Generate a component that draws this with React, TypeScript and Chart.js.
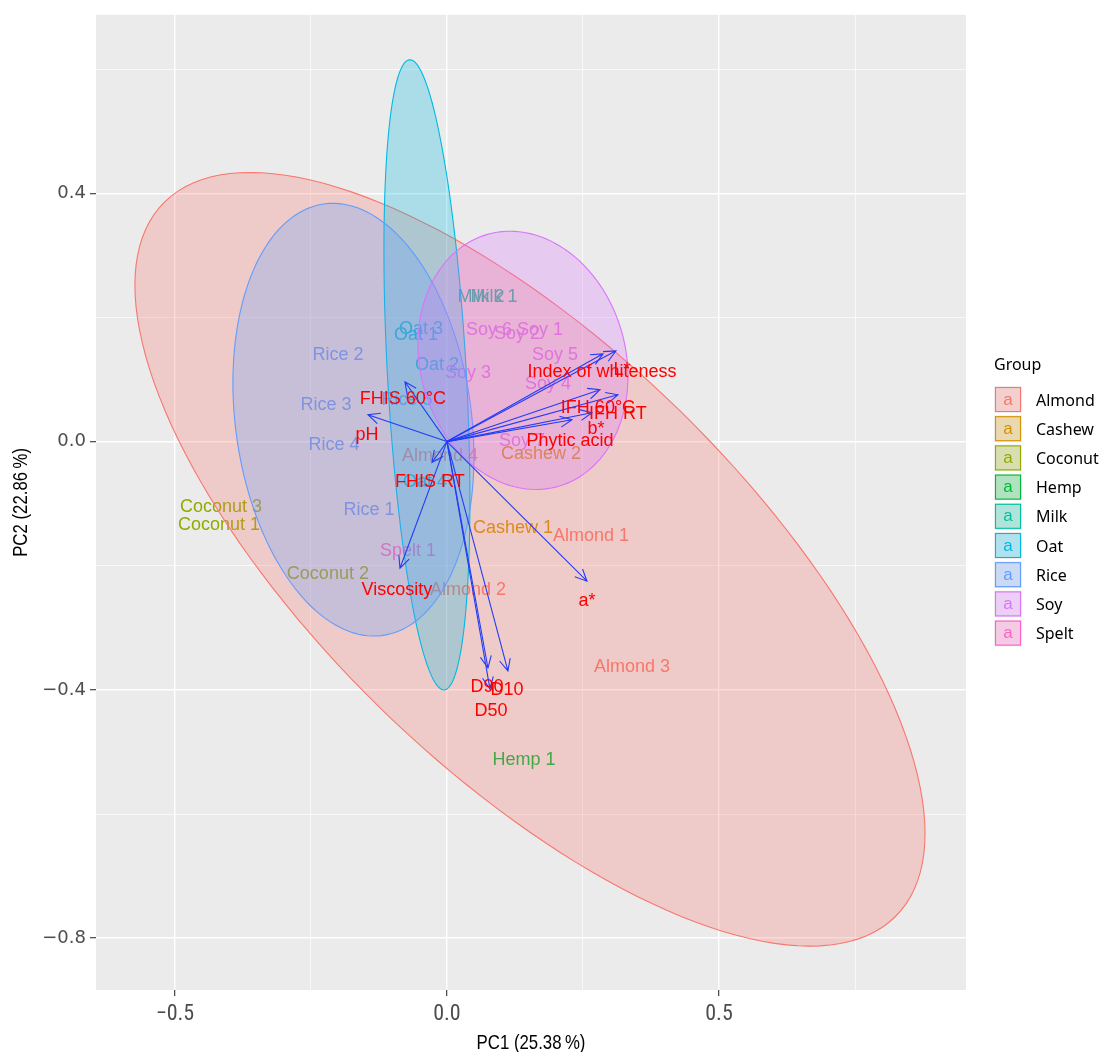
import React, { useEffect, useRef } from "react";
import { Chart, registerables } from "chart.js";
Chart.register(...registerables);

// ---------------- data ----------------
const groups = ["Almond", "Cashew", "Coconut", "Hemp", "Milk", "Oat", "Rice", "Soy", "Spelt"];
const groupColors = ["#F8766D", "#D39200", "#93AA00", "#00BA38", "#00C19F", "#00B9E3", "#619CFF", "#DB72FB", "#FF61C3"];

const sampleNames = [
  "Almond 1", "Almond 2", "Almond 3", "Almond 4", "Cashew 1", "Cashew 2",
  "Coconut 1", "Coconut 2", "Coconut 3", "Hemp 1", "Milk 1", "Milk 2",
  "Oat 1", "Oat 2", "Oat 3", "Oat 4", "Rice 1", "Rice 2", "Rice 3", "Rice 4", "Rice 5",
  "Soy 1", "Soy 2", "Soy 3", "Soy 4", "Soy 5", "Soy 6", "Soy 7", "Spelt 1",
];
const sampleGroups = [
  "Almond", "Almond", "Almond", "Almond", "Cashew", "Cashew",
  "Coconut", "Coconut", "Coconut", "Hemp", "Milk", "Milk",
  "Oat", "Oat", "Oat", "Oat", "Rice", "Rice", "Rice", "Rice", "Rice",
  "Soy", "Soy", "Soy", "Soy", "Soy", "Soy", "Soy", "Spelt",
];
const samplePC1 = [
  0.2647, 0.0386, 0.3401, -0.0129, 0.1213, 0.1728,
  -0.4191, -0.2188, -0.4154, 0.1415, 0.0864, 0.0625,
  -0.057, -0.0184, -0.0478, -0.0404, -0.1434, -0.2004, -0.2224, -0.2077, -0.0735,
  0.171, 0.1287, 0.0386, 0.1857, 0.1985, 0.0772, 0.1379, -0.0717,
];
const samplePC2 = [
  -0.1494, -0.2361, -0.3614, -0.0209, -0.1365, -0.0177,
  -0.1317, -0.2104, -0.1028, -0.5108, 0.2361, 0.2361,
  0.1735, 0.1253, 0.1831, -0.0627, -0.1076, 0.1414, 0.061, -0.0032, 0.0691,
  0.1815, 0.1751, 0.1124, 0.0948, 0.1414, 0.1815, 0.0032, -0.1735,
];

const varNames = ["L*", "Index of whiteness", "IFH 60°C", "IFH RT", "b*", "Phytic acid", "a*", "pH", "FHIS 60°C", "FHIS RT", "Viscosity", "D90", "D10", "D50"];
const varPC1 = [0.3107, 0.2868, 0.2813, 0.3143, 0.2665, 0.2298, 0.2574, -0.1452, -0.0772, -0.0276, -0.0864, 0.0754, 0.1121, 0.079];
const varPC2 = [0.1462, 0.1414, 0.0835, 0.0755, 0.0466, 0.0353, -0.2249, 0.0434, 0.0964, -0.0337, -0.204, -0.3647, -0.3695, -0.3984];
const varLabelPC1 = [0.3217, 0.2849, 0.2776, 0.3143, 0.2739, 0.2261, 0.2574, -0.1471, -0.0809, -0.0313, -0.0919, 0.0735, 0.1103, 0.0809];
const varLabelPC2 = [0.1173, 0.1141, 0.0562, 0.0466, 0.0225, 0.0032, -0.2538, 0.0129, 0.0707, -0.0627, -0.2361, -0.3936, -0.3984, -0.4321];

const ellipseGroups = ["Almond", "Oat", "Rice", "Soy"];
const ellipseCenterPC1 = [0.1526, -0.0368, -0.1719, 0.1397];
const ellipseCenterPC2 = [-0.1896, 0.1076, 0.0353, 0.1309];
const ellipseAxis1PC1 = [0.7261, 0.079, 0.2215, 0.193];
const ellipseAxis1PC2 = [-0.4416, -0.2006, -0.0593, -0.0257];
const ellipseAxis2PC1 = [0, 0, 0, 0];
const ellipseAxis2PC2 = [-0.4398, -0.4663, -0.3435, -0.2064];

const xTickValues = [-0.5, 0, 0.5];
const xTickLabels = ["\u22120.5", "0.0", "0.5"];
const xMinorValues = [-0.25, 0.25, 0.75];
const yTickValues = [-0.8, -0.4, 0, 0.4];
const yTickLabels = ["\u22120.8", "\u22120.4", "0.0", "0.4"];
const yMinorValues = [-0.6, -0.2, 0.2, 0.6];
const xLimits = [-0.645, 0.954];
const yLimits = [-0.8835, 0.6876];

const xTitle = "PC1 (25.38\u2009%)";
const yTitle = "PC2 (22.86\u2009%)";
const legendTitle = "Group";

// ---------------- styles ----------------
const FILL_ALPHA = 0.27;
const LABEL_FONT = "18px 'Liberation Sans', Arial, sans-serif";
const TITLE_FONT = "21px 'Liberation Sans', Arial, sans-serif";
const ARROW_COLOR = "rgb(35,60,245)";
const VAR_COLOR = "#FF0000";

function hexToRgba(hex: string, a: number) {
  const n = parseInt(hex.slice(1), 16);
  return `rgba(${(n >> 16) & 255},${(n >> 8) & 255},${n & 255},${a})`;
}
const colorOf = (g: string) => groupColors[groups.indexOf(g)];
const near = (a: number, b: number) => Math.abs(a - b) < 1e-9;
function labelFor(v: number, vals: number[], labels: string[]) {
  const i = vals.findIndex((t) => near(t, v));
  return i >= 0 ? labels[i] : "";
}
const isMajor = (v: number, vals: number[]) => vals.some((t) => near(t, v));

const biplotPlugin = {
  id: "biplot",
  beforeDraw(chart: any) {
    const { ctx, chartArea: a } = chart;
    ctx.save();
    ctx.fillStyle = "#FFFFFF";
    ctx.fillRect(0, 0, chart.width, chart.height);
    ctx.fillStyle = "#EBEBEB";
    ctx.fillRect(a.left, a.top, a.right - a.left, a.bottom - a.top);
    ctx.restore();
  },
  afterDatasetsDraw(chart: any) {
    const { ctx, chartArea: a, scales } = chart;
    const xs = scales.x, ys = scales.y;
    const X = (v: number) => xs.getPixelForValue(v);
    const Y = (v: number) => ys.getPixelForValue(v);
    ctx.save();
    ctx.beginPath();
    ctx.rect(a.left, a.top, a.right - a.left, a.bottom - a.top);
    ctx.clip();

    // sample labels
    ctx.font = LABEL_FONT;
    ctx.textAlign = "center";
    ctx.textBaseline = "alphabetic";
    sampleNames.forEach((name, i) => {
      ctx.fillStyle = colorOf(sampleGroups[i]);
      ctx.fillText(name, X(samplePC1[i]), Y(samplePC2[i]) + 6.5);
    });

    // ellipses
    ellipseGroups.forEach((g, k) => {
      const col = colorOf(g);
      ctx.beginPath();
      const N = 160;
      for (let j = 0; j <= N; j++) {
        const t = (j / N) * Math.PI * 2;
        const dx = ellipseCenterPC1[k] + ellipseAxis1PC1[k] * Math.cos(t) + ellipseAxis2PC1[k] * Math.sin(t);
        const dy = ellipseCenterPC2[k] + ellipseAxis1PC2[k] * Math.cos(t) + ellipseAxis2PC2[k] * Math.sin(t);
        if (j === 0) ctx.moveTo(X(dx), Y(dy));
        else ctx.lineTo(X(dx), Y(dy));
      }
      ctx.closePath();
      ctx.fillStyle = hexToRgba(col, FILL_ALPHA);
      ctx.fill();
      ctx.strokeStyle = col;
      ctx.lineWidth = 1.1;
      ctx.stroke();
    });

    // arrows
    const ox = X(0), oy = Y(0);
    ctx.strokeStyle = ARROW_COLOR;
    ctx.lineWidth = 1.1;
    varNames.forEach((_, i) => {
      const tx = X(varPC1[i]), ty = Y(varPC2[i]);
      ctx.beginPath();
      ctx.moveTo(ox, oy);
      ctx.lineTo(tx, ty);
      const ang = Math.atan2(ty - oy, tx - ox);
      const L = 13, h = (25 * Math.PI) / 180;
      ctx.moveTo(tx - L * Math.cos(ang - h), ty - L * Math.sin(ang - h));
      ctx.lineTo(tx, ty);
      ctx.lineTo(tx - L * Math.cos(ang + h), ty - L * Math.sin(ang + h));
      ctx.stroke();
    });

    // variable labels
    ctx.font = LABEL_FONT;
    ctx.fillStyle = VAR_COLOR;
    varNames.forEach((name, i) => {
      ctx.fillText(name, X(varLabelPC1[i]), Y(varLabelPC2[i]) + 6.5);
    });
    ctx.restore();
  },
  afterDraw(chart: any) {
    const { ctx, chartArea: a } = chart;
    // axis titles (narrow type, as in the reference)
    ctx.save();
    ctx.fillStyle = "#000000";
    ctx.font = TITLE_FONT;
    ctx.textAlign = "center";
    ctx.textBaseline = "middle";
    ctx.translate((a.left + a.right) / 2, 1043);
    ctx.scale(0.8, 1);
    ctx.fillText(xTitle, 0, 0);
    ctx.restore();
    ctx.save();
    ctx.fillStyle = "#000000";
    ctx.font = TITLE_FONT;
    ctx.textAlign = "center";
    ctx.textBaseline = "middle";
    ctx.translate(21, (a.top + a.bottom) / 2);
    ctx.rotate(-Math.PI / 2);
    ctx.scale(0.8, 1);
    ctx.fillText(yTitle, 0, 0);
    ctx.restore();

    // legend
    ctx.save();
    ctx.fillStyle = "#000000";
    ctx.font = "16px 'Noto Sans', 'Open Sans', sans-serif";
    ctx.textAlign = "left";
    ctx.textBaseline = "alphabetic";
    ctx.fillText(legendTitle, 994, 370);
    const top0 = 386, step = 29.2, bw = 28, bh = 27;
    groups.forEach((g, i) => {
      const y = top0 + i * step;
      const col = groupColors[i];
      ctx.fillStyle = "#F2F2F2";
      ctx.fillRect(994, y, bw, bh);
      ctx.fillStyle = hexToRgba(col, FILL_ALPHA);
      ctx.fillRect(995, y + 1, bw - 2, bh - 2);
      ctx.strokeStyle = col;
      ctx.lineWidth = 1.1;
      ctx.strokeRect(995.5, y + 1.5, bw - 3, bh - 3);
      ctx.fillStyle = col;
      ctx.font = "17px 'Liberation Sans', Arial, sans-serif";
      ctx.textAlign = "center";
      ctx.fillText("a", 994 + bw / 2, y + bh / 2 + 5);
      ctx.fillStyle = "#000000";
      ctx.font = "16px 'Noto Sans', 'Open Sans', sans-serif";
      ctx.textAlign = "left";
      ctx.fillText(g, 1036, y + bh / 2 + 6);
    });
    ctx.restore();
  },
};

export default function App() {
  const ref = useRef<HTMLCanvasElement>(null);
  useEffect(() => {
    document.body.style.margin = "0";
    const canvas = ref.current!;
    const xGrid = [...xTickValues, ...xMinorValues].sort((p, q) => p - q);
    const yGrid = [...yTickValues, ...yMinorValues].sort((p, q) => p - q);
    const chart = new Chart(canvas, {
      type: "scatter",
      data: {
        datasets: [
          {
            label: "samples",
            data: samplePC1.map((x, i) => ({ x, y: samplePC2[i] })),
            pointRadius: 0,
            pointHoverRadius: 0,
          },
        ],
      },
      options: {
        animation: false,
        responsive: false,
        devicePixelRatio: 1,
        events: [],
        layout: { padding: { top: 12, right: 137, left: 0, bottom: 0 } },
        plugins: { legend: { display: false }, tooltip: { enabled: false }, title: { display: false } },
        scales: {
          x: {
            type: "linear",
            min: xLimits[0],
            max: xLimits[1],
            afterBuildTicks: (s: any) => {
              s.ticks = xGrid.map((v) => ({ value: v }));
            },
            afterFit: (s: any) => {
              s.height = 62;
            },
            border: { display: false },
            grid: {
              color: "#FFFFFF",
              lineWidth: (c: any) => (isMajor(c.tick?.value, xTickValues) ? 1.4 : 0.7),
              tickColor: (c: any) => (isMajor(c.tick?.value, xTickValues) ? "#333333" : "rgba(0,0,0,0)"),
              tickWidth: 1.1,
              tickLength: 6,
              drawTicks: true,
            },
            ticks: {
              autoSkip: false,
              maxRotation: 0,
              minRotation: 0,
              padding: 5,
              color: "#4D4D4D",
              font: { family: "'Roboto Condensed', 'Liberation Sans Narrow', 'Liberation Sans', sans-serif", size: 22 },
              callback: (v: any) => labelFor(Number(v), xTickValues, xTickLabels),
            },
          },
          y: {
            type: "linear",
            min: yLimits[0],
            max: yLimits[1],
            afterBuildTicks: (s: any) => {
              s.ticks = yGrid.map((v) => ({ value: v }));
            },
            afterFit: (s: any) => {
              s.width = 96;
            },
            border: { display: false },
            grid: {
              color: "#FFFFFF",
              lineWidth: (c: any) => (isMajor(c.tick?.value, yTickValues) ? 1.4 : 0.7),
              tickColor: (c: any) => (isMajor(c.tick?.value, yTickValues) ? "#333333" : "rgba(0,0,0,0)"),
              tickWidth: 1.1,
              tickLength: 6,
              drawTicks: true,
            },
            ticks: {
              autoSkip: false,
              padding: 4,
              color: "#4D4D4D",
              font: { family: "'DejaVu Sans', sans-serif", size: 18 },
              callback: (v: any) => labelFor(Number(v), yTickValues, yTickLabels),
            },
          },
        },
      },
      plugins: [biplotPlugin],
    } as any);
    return () => chart.destroy();
  }, []);
  return (
    <div style={{ position: "absolute", left: 0, top: 0, width: 1103, height: 1052 }}>
      <canvas ref={ref} width={1103} height={1052} style={{ display: "block" }} />
    </div>
  );
}
